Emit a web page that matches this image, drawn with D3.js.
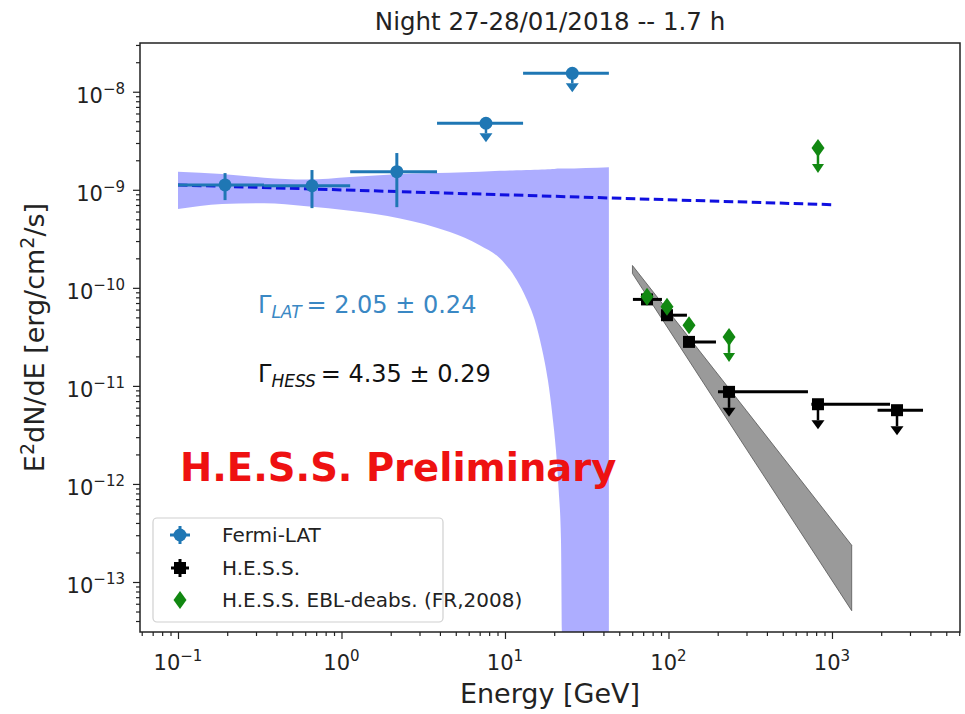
<!DOCTYPE html>
<html>
<head>
<meta charset="utf-8">
<script src="https://cdn.jsdelivr.net/npm/d3@7"></script>
<style>
  body { margin: 0; background: #fff; }
  text { font-family: "DejaVu Sans", sans-serif; }
</style>
</head>
<body>
<svg id="chart" width="965" height="714"></svg>
<script>
// Fermi-LAT flux points (GeV, erg/cm2/s)
const fermiE   = [0.194, 0.66, 2.18, 7.65, 25.8];
const fermiElo = [0.1, 0.336, 1.13, 3.84, 12.9];
const fermiEhi = [0.336, 1.13, 3.84, 12.9, 43.2];
const fermiF   = [1.12e-9, 1.10e-9, 1.53e-9, 4.77e-9, 1.54e-8];
const fermiFlo = [7.85e-10, 6.5e-10, 6.65e-10, null, null];
const fermiFhi = [1.48e-9, 1.59e-9, 2.37e-9, null, null];
const fermiUL  = [false, false, false, true, true];

// Fermi-LAT power law fit and its butterfly
const fitE = [0.1, 1000];
const fitF = [1.12e-9, 7.05e-10];
const bandE  = [0.1, 0.186, 0.336, 0.61, 1.13, 2.28, 4.6, 7.0, 9.3, 11.8, 13.5, 15.2, 16.8, 18.3, 19.5, 20.5, 21.3, 22, 22.5, 43.2];
const bandLo = [6.35e-10, 7.15e-10, 7.3e-10, 6.8e-10, 6.1e-10, 5.1e-10, 3.7e-10, 2.72e-10, 2.0e-10, 1.2e-10, 7.8e-11, 4.7e-11, 2.42e-11, 1.14e-11, 5e-12, 2.2e-12, 8.6e-13, 2.7e-13, 1e-15, 1e-15];
const bandHi = [1.53e-9, 1.45e-9, 1.33e-9, 1.27e-9, 1.35e-9, 1.45e-9, 1.49e-9, 1.53e-9, 1.56e-9, 1.58e-9, 1.59e-9, 1.6e-9, 1.61e-9, 1.62e-9, 1.63e-9, 1.64e-9, 1.645e-9, 1.65e-9, 1.65e-9, 1.7e-9];

// H.E.S.S. flux points
const hessE   = [73.9, 97.9, 133.5, 234.6, 821, 2499];
const hessElo = [60.6, 91.2, 124.4, 200.8, 748, 1900];
const hessEhi = [91.2, 129.7, 195.2, 713, 2265, 3604];
const hessF   = [7.62e-11, 5.26e-11, 2.81e-11, 8.69e-12, 6.5e-12, 5.65e-12];
const hessUL  = [false, false, false, true, true, true];

// H.E.S.S. butterfly
const hessBandE  = [60.2, 300, 1320];
const hessBandLo = [1.4e-10, 2.26e-12, 5.1e-14];
const hessBandHi = [1.69e-10, 5.58e-12, 2.37e-13];

// H.E.S.S. EBL-deabsorbed points
const eblE  = [73.9, 97.9, 133.5, 234.6, 821];
const eblF  = [8.09e-11, 6.4e-11, 4.16e-11, 3.16e-11, 2.67e-9];
const eblUL = [false, false, false, true, true];

const xTickExp = [-1, 0, 1, 2, 3];
const yTickExp = [-13, -12, -11, -10, -9, -8];
const legendLabels = ['Fermi-LAT', 'H.E.S.S.', 'H.E.S.S. EBL-deabs. (FR,2008)'];

const fermiColor = '#1f77b4';
const eblColor = '#118811';

const svg = d3.select('#chart');
const plot = {left: 140, right: 960, top: 43, bottom: 632};

const x = d3.scaleLog()
    .domain([Math.pow(10, -1.2324), Math.pow(10, 3.783)])
    .range([plot.left, plot.right]);
const y = d3.scaleLog()
    .domain([Math.pow(10, -13.51), Math.pow(10, -7.503)])
    .range([plot.bottom, plot.top]);

svg.append('defs').append('clipPath').attr('id', 'clip')
  .append('rect')
    .attr('x', plot.left).attr('y', plot.top)
    .attr('width', plot.right - plot.left).attr('height', plot.bottom - plot.top);

const g = svg.append('g').attr('clip-path', 'url(#clip)');

// bands
const bandArea = d3.area()
    .x(d => x(d[0]))
    .y0(d => Math.min(y(d[1]), plot.bottom + 50))
    .y1(d => y(d[2]))
    .curve(d3.curveMonotoneX);

g.append('path')
    .datum(bandE.map((e, i) => [e, bandLo[i], bandHi[i]]))
    .attr('d', bandArea)
    .attr('fill', 'rgb(0,0,255)')
    .attr('fill-opacity', 0.32);

g.append('path')
    .datum(hessBandE.map((e, i) => [e, hessBandLo[i], hessBandHi[i]]))
    .attr('d', bandArea.curve(d3.curveLinear))
    .attr('fill', '#9a9a9a')
    .attr('stroke', '#555')
    .attr('stroke-width', 0.8);

// fermi power-law fit
g.append('path')
    .datum(fitE.map((e, i) => [e, fitF[i]]))
    .attr('d', d3.line().x(d => x(d[0])).y(d => y(d[1])))
    .attr('fill', 'none')
    .attr('stroke', '#1010e0')
    .attr('stroke-width', 3)
    .attr('stroke-dasharray', '9.5,4.5');

function arrow(sel, cx, cy, len, hw, hh, color) {
    sel.append('line')
        .attr('x1', cx).attr('x2', cx)
        .attr('y1', cy).attr('y2', cy + len - hh)
        .attr('stroke', color).attr('stroke-width', 2.5);
    sel.append('path')
        .attr('d', `M${cx - hw / 2},${cy + len - hh}L${cx + hw / 2},${cy + len - hh}L${cx},${cy + len}Z`)
        .attr('fill', color);
}

// fermi points
const fermi = g.append('g');
fermiE.forEach((e, i) => {
    const cx = x(e), cy = y(fermiF[i]);
    fermi.append('line')
        .attr('x1', x(fermiElo[i])).attr('x2', x(fermiEhi[i]))
        .attr('y1', cy).attr('y2', cy)
        .attr('stroke', fermiColor).attr('stroke-width', 3);
    if (fermiUL[i]) {
        arrow(fermi, cx, cy, 19, 13, 9, fermiColor);
    } else {
        fermi.append('line')
            .attr('x1', cx).attr('x2', cx)
            .attr('y1', y(fermiFhi[i])).attr('y2', y(fermiFlo[i]))
            .attr('stroke', fermiColor).attr('stroke-width', 3);
    }
    fermi.append('circle').attr('cx', cx).attr('cy', cy).attr('r', 6.5).attr('fill', fermiColor);
});

// hess points
const hess = g.append('g');
hessE.forEach((e, i) => {
    const cx = x(e), cy = y(hessF[i]);
    hess.append('line')
        .attr('x1', x(hessElo[i])).attr('x2', x(hessEhi[i]))
        .attr('y1', cy).attr('y2', cy)
        .attr('stroke', '#000').attr('stroke-width', 3);
    if (hessUL[i]) arrow(hess, cx, cy, 25, 13, 9, '#000');
    hess.append('rect')
        .attr('x', cx - 6).attr('y', cy - 6)
        .attr('width', 12).attr('height', 12)
        .attr('fill', '#000');
});

// ebl-deabsorbed points
const diamond = (cx, cy) => `M${cx},${cy - 9}L${cx + 6.5},${cy}L${cx},${cy + 9}L${cx - 6.5},${cy}Z`;
const ebl = g.append('g');
eblE.forEach((e, i) => {
    const cx = x(e), cy = y(eblF[i]);
    if (eblUL[i]) arrow(ebl, cx, cy, 25, 12, 9, eblColor);
    ebl.append('path').attr('d', diamond(cx, cy)).attr('fill', eblColor);
});

// annotations
const t1 = svg.append('text').attr('x', 258).attr('y', 313).attr('font-size', 24).attr('fill', '#3a88c4');
t1.append('tspan').text('Γ');
t1.append('tspan').attr('font-size', 17).attr('font-style', 'italic').attr('dy', 5).text('LAT');
t1.append('tspan').attr('dy', -5).text('\u2009= 2.05 ± 0.24');

const t2 = svg.append('text').attr('x', 258).attr('y', 382).attr('font-size', 24).attr('fill', '#111');
t2.append('tspan').text('Γ');
t2.append('tspan').attr('font-size', 17).attr('font-style', 'italic').attr('dy', 5).text('HESS');
t2.append('tspan').attr('dy', -5).text('\u2009= 4.35 ± 0.29');

svg.append('text')
    .attr('x', 180).attr('y', 481)
    .attr('font-size', 38.5).attr('font-weight', 'bold')
    .attr('fill', '#ee1111')
    .text('H.E.S.S. Preliminary');

// axes
const gx = svg.append('g').attr('transform', `translate(0,${plot.bottom})`);
gx.call(d3.axisBottom(x).tickValues(xTickExp.map(e => Math.pow(10, e))).tickSize(7).tickFormat(''));
const xMinor = [];
d3.range(-2, 4).forEach(d => d3.range(2, 10).forEach(k => {
    const v = k * Math.pow(10, d);
    if (v > x.domain()[0] && v < x.domain()[1]) xMinor.push(v);
}));
gx.append('g').call(d3.axisBottom(x).tickValues(xMinor).tickSize(4).tickFormat(''));

const gy = svg.append('g').attr('transform', `translate(${plot.left},0)`);
gy.call(d3.axisLeft(y).tickValues(yTickExp.map(e => Math.pow(10, e))).tickSize(7).tickFormat(''));
const yMinor = [];
d3.range(-14, -7).forEach(d => d3.range(2, 10).forEach(k => {
    const v = k * Math.pow(10, d);
    if (v > y.domain()[0] && v < y.domain()[1]) yMinor.push(v);
}));
gy.append('g').call(d3.axisLeft(y).tickValues(yMinor).tickSize(4).tickFormat(''));

svg.selectAll('.domain').remove();
svg.selectAll('.tick line').attr('stroke', '#222').attr('stroke-width', 1.2);

xTickExp.forEach(e => {
    const t = svg.append('text')
        .attr('x', x(Math.pow(10, e))).attr('y', 670)
        .attr('text-anchor', 'middle').attr('font-size', 21).attr('fill', '#222');
    t.append('tspan').text('10');
    t.append('tspan').attr('dy', -9).attr('font-size', 15).text(e < 0 ? '−' + (-e) : String(e));
});

yTickExp.forEach(e => {
    const t = svg.append('text')
        .attr('x', 125).attr('y', y(Math.pow(10, e)) + 11)
        .attr('text-anchor', 'end').attr('font-size', 21).attr('fill', '#222');
    t.append('tspan').text('10');
    t.append('tspan').attr('dy', -9).attr('font-size', 15).text('−' + (-e));
});

// frame
svg.append('rect')
    .attr('x', plot.left).attr('y', plot.top)
    .attr('width', plot.right - plot.left).attr('height', plot.bottom - plot.top)
    .attr('fill', 'none').attr('stroke', '#222').attr('stroke-width', 1.5);

// titles
svg.append('text')
    .attr('x', (plot.left + plot.right) / 2).attr('y', 30)
    .attr('text-anchor', 'middle').attr('font-size', 24.5).attr('fill', '#222')
    .text('Night 27-28/01/2018 -- 1.7 h');

svg.append('text')
    .attr('x', (plot.left + plot.right) / 2).attr('y', 703)
    .attr('text-anchor', 'middle').attr('font-size', 27).attr('fill', '#222')
    .text('Energy [GeV]');

const yl = svg.append('text')
    .attr('transform', `translate(44,${(plot.top + plot.bottom) / 2}) rotate(-90)`)
    .attr('text-anchor', 'middle').attr('font-size', 27).attr('fill', '#222');
yl.append('tspan').text('E');
yl.append('tspan').attr('dy', -10).attr('font-size', 19).text('2');
yl.append('tspan').attr('dy', 10).text('dN/dE [erg/cm');
yl.append('tspan').attr('dy', -10).attr('font-size', 19).text('2');
yl.append('tspan').attr('dy', 10).text('/s]');

// legend
const leg = svg.append('g');
leg.append('rect')
    .attr('x', 153).attr('y', 518).attr('width', 290).attr('height', 104)
    .attr('rx', 4)
    .attr('fill', 'rgba(255,255,255,0.85)').attr('stroke', '#d0d0d0').attr('stroke-width', 1.2);
const rowY = [535, 568, 600];
legendLabels.forEach((lab, i) => {
    const ly = rowY[i], lx = 180;
    if (i === 0) {
        leg.append('line').attr('x1', lx - 10).attr('x2', lx + 10).attr('y1', ly).attr('y2', ly)
            .attr('stroke', fermiColor).attr('stroke-width', 3);
        leg.append('line').attr('x1', lx).attr('x2', lx).attr('y1', ly - 9).attr('y2', ly + 9)
            .attr('stroke', fermiColor).attr('stroke-width', 3);
        leg.append('circle').attr('cx', lx).attr('cy', ly).attr('r', 6.5).attr('fill', fermiColor);
    } else if (i === 1) {
        leg.append('line').attr('x1', lx - 9).attr('x2', lx + 9).attr('y1', ly).attr('y2', ly)
            .attr('stroke', '#000').attr('stroke-width', 3);
        leg.append('line').attr('x1', lx).attr('x2', lx).attr('y1', ly - 9).attr('y2', ly + 9)
            .attr('stroke', '#000').attr('stroke-width', 3);
        leg.append('rect').attr('x', lx - 6).attr('y', ly - 6).attr('width', 12).attr('height', 12).attr('fill', '#000');
    } else {
        leg.append('path').attr('d', diamond(lx, ly)).attr('fill', eblColor);
    }
    leg.append('text').attr('x', 222).attr('y', ly + 7)
        .attr('font-size', 20).attr('fill', '#222').text(lab);
});
</script>
</body>
</html>
